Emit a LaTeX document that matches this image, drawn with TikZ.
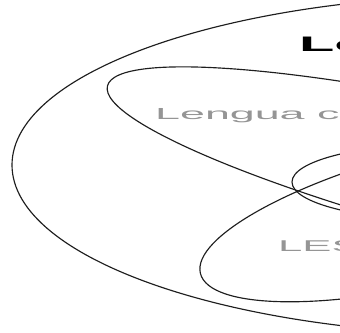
\documentclass[tikz,border=0pt]{standalone}
\usepackage{fontspec}
\setmainfont{Liberation Sans}
\definecolor{linecol}{HTML}{1E1E1E}
\definecolor{txtgray}{HTML}{959595}
\begin{document}
\begin{tikzpicture}[x=1pt,y=1pt,
  curve/.style={draw=linecol, line width=1.15pt},
  lbl/.style={inner sep=0pt, anchor=base west}]
\useasboundingbox (0,0) rectangle (340,332);
\clip (0,0) rectangle (340,332);
% outer ellipse
\draw[curve] (502,167) ellipse [x radius=490pt, y radius=170pt];
% upper inner ellipse
\draw[curve, rotate around={-13.5:(545,141)}] (545,141) ellipse [x radius=450pt, y radius=68pt];
% lower inner ellipse
\draw[curve, rotate around={14:(443,119)}] (443,119) ellipse [x radius=250pt, y radius=67pt];
% small central ellipse
\draw[curve] (442,150) ellipse [x radius=150pt, y radius=38pt];
% labels
\node[lbl] (title) at (299,280) {\scalebox{2.75}[1]{\fontsize{21}{24}\selectfont\bfseries Le}};
\node[lbl, text=txtgray] (comun) at (155,212) {\scalebox{2.8}[1]{\fontsize{16}{18}\selectfont Lengua c}};
\node[lbl, text=txtgray] (les) at (278,80) {\scalebox{2.8}[1]{\fontsize{15.6}{18}\selectfont LES}};
\end{tikzpicture}
\end{document}
